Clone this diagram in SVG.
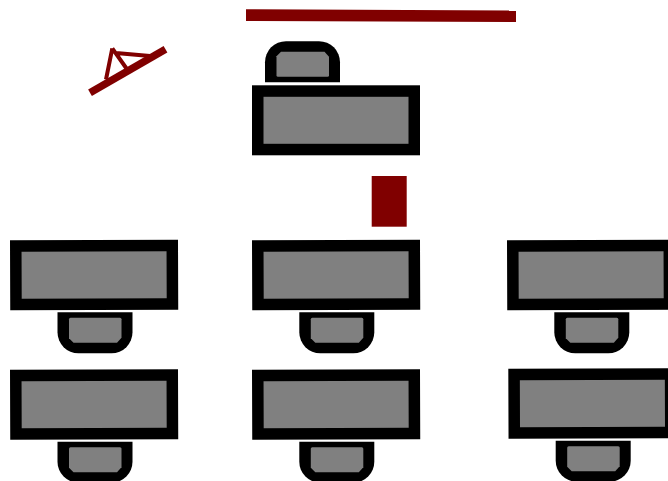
<svg xmlns="http://www.w3.org/2000/svg" width="668" height="481" viewBox="0 0 668 481">
<style>
.dark{fill:#800000}
.desk{fill:#808080;stroke:#000;stroke-width:11.5}
.co{fill:#000}
.ci{fill:#808080}
.beam{stroke:#800000;fill:none}
</style>
<defs>
<g id="desk"><rect class="desk" x="5.75" y="5.75" width="156.5" height="58.5"/></g>
<g id="chair"><path class="co" d="M0 0H75V20A21 21 0 0 1 54 41H21A21 21 0 0 1 0 20Z"/><path class="ci" d="M13 5.500H62.500Q64 5.500 64 7V25.500L59.500 30.500H16L11.500 26V7Q11.500 5.500 13 5.500Z"/></g>
</defs>
<rect width="668" height="481" fill="#fff"/>
<g id="board"><path class="dark" d="M246 9.300L516 10.500V22L246 21Z"/></g>
<g id="teacher">
<path class="beam" stroke-width="7.500" d="M90 92.700L165.500 49.300"/>
<path class="beam" stroke-width="4" d="M112.300 48.300L106 79.500M112.300 48.300L126.500 68.500M116 53L150 56"/>
</g>
<g id="teacher-desk"><use href="#desk" x="252" y="85.300"/><use href="#chair" transform="translate(265 82.200) scale(1 -1)"/></g>
<g id="cabinet"><rect class="dark" x="371.700" y="176" width="35" height="50.700"/></g>
<g id="seat-1"><use href="#desk" transform="translate(10 240.300) rotate(-.2)"/><use href="#chair" x="57.500" y="312.300"/></g>
<g id="seat-2"><use href="#desk" transform="translate(252 240.300) rotate(-.2)"/><use href="#chair" x="299.300" y="312.300"/></g>
<g id="seat-3"><use href="#desk" transform="translate(507 240.300) rotate(-.2)"/><use href="#chair" x="554.300" y="312.300"/></g>
<g id="seat-4"><use href="#desk" transform="translate(10 369.800) rotate(-.2)"/><use href="#chair" x="57.500" y="441.700"/></g>
<g id="seat-5"><use href="#desk" transform="translate(252 369.800) rotate(-.2)"/><use href="#chair" x="299.300" y="441.700"/></g>
<g id="seat-6"><use href="#desk" transform="translate(508.300 368.800) rotate(-.2)"/><use href="#chair" x="555.700" y="440.700"/></g>
</svg>
